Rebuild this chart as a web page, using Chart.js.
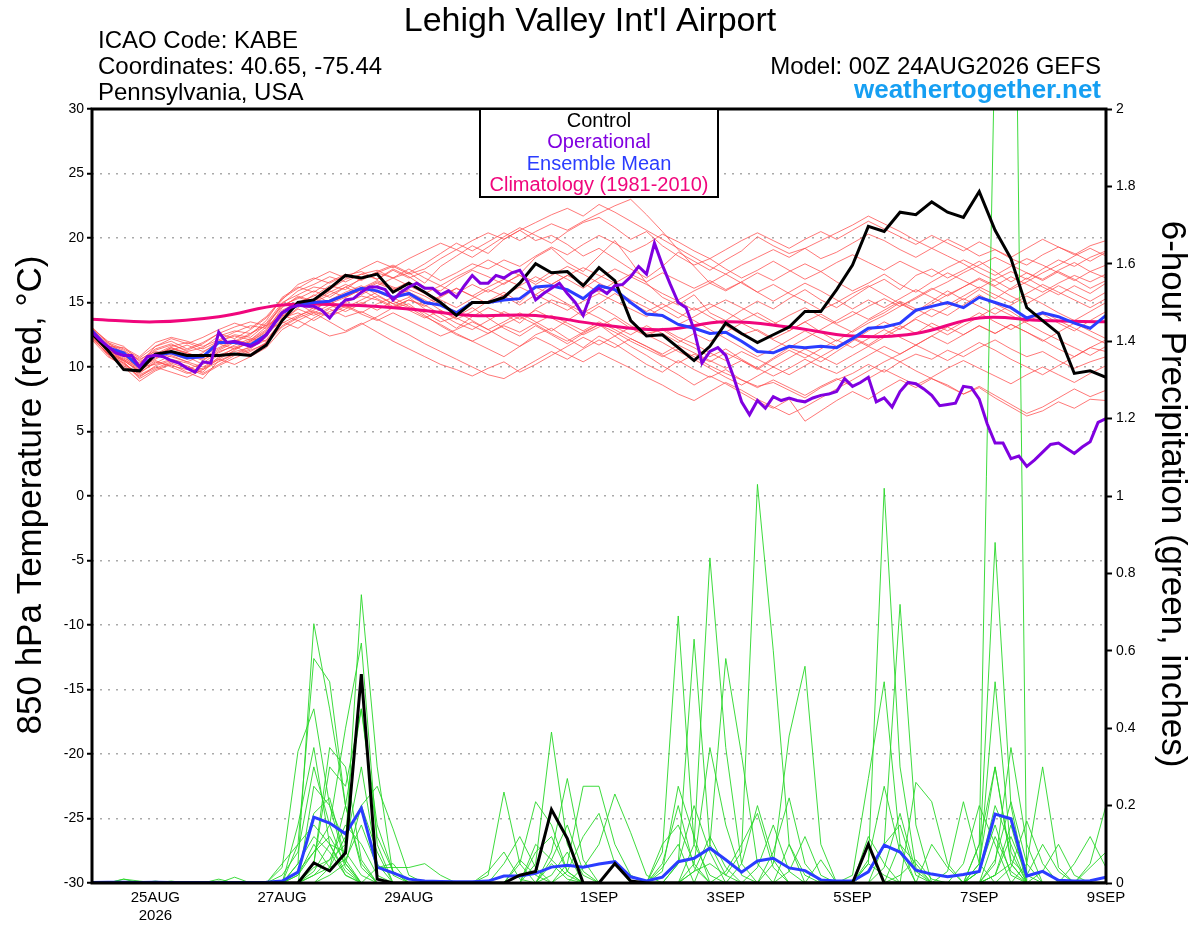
<!DOCTYPE html>
<html>
<head>
<meta charset="utf-8">
<title>Lehigh Valley Int'l Airport - GEFS</title>
<script src="https://cdn.jsdelivr.net/npm/chart.js@4.4.1/dist/chart.umd.min.js"></script>
<style>
  body { margin: 0; background: #fff; }
  canvas { display: block; }
</style>
</head>
<body>
<canvas id="myChart" width="1200" height="927"></canvas>
<script>
// horas desde 00Z 24AUG2026, cada 6 h (miembros, control, media)
const hours = [];
for (let h = 0; h <= 384; h += 6) hours.push(h);
// operacional cada 3 h
const opHours = [];
for (let h = 0; h <= 384; h += 3) opHours.push(h);
// climatologia diaria
const climHours = [0, 24, 48, 72, 96, 120, 144, 168, 192, 216, 240, 264, 288, 312, 336, 360, 384];

// etiquetas del eje x
const tickHours = [24, 72, 120, 192, 240, 288, 336, 384];
const tickLabels = [["25AUG", "2026"], "27AUG", "29AUG", "1SEP", "3SEP", "5SEP", "7SEP", "9SEP"];
const tempTicks = [-30, -25, -20, -15, -10, -5, 0, 5, 10, 15, 20, 25, 30];
const precipTicks = [0, 0.2, 0.4, 0.6, 0.8, 1, 1.2, 1.4, 1.6, 1.8, 2];

// temperatura 850 hPa (C)
const tempControl = [12.6,11.3,9.8,9.7,11.0,11.2,10.9,10.9, 10.9,11.0,10.9,11.7,13.6,15.0,15.2,16.1, 17.1,16.9,17.2,15.8,16.5,15.8,15.0,14.0, 15.0,15.0,15.4,16.5,18.0,17.3,17.4,16.3, 17.7,16.7,13.6,12.4,12.5,11.5,10.5,11.6, 13.4,12.6,11.9,12.5,13.1,14.3,14.3,16.0, 17.9,20.9,20.5,22.0,21.8,22.8,22.0,21.6, 23.6,20.6,18.4,14.6,13.6,12.6,9.5,9.7, 9.2];
const tempMean = [12.8,11.5,11.1,10.0,10.9,11.1,10.7,10.8, 11.9,11.9,11.7,12.5,14.2,14.8,15.0,15.1, 15.6,16.1,15.9,15.4,15.7,15.0,14.8,14.2, 15.0,15.0,15.2,15.3,16.2,16.3,16.0,15.3, 16.3,16.0,15.0,14.1,14.0,13.3,13.0,12.6, 12.7,12.0,11.2,11.1,11.6,11.5,11.6,11.5, 12.2,13.0,13.1,13.4,14.4,14.7,15.0,14.6, 15.4,15.0,14.6,13.8,14.2,13.9,13.4,13.0, 14.0];
const tempOper = [12.7,12.1,11.6,11.1,10.9,10.9,10.0,10.8, 10.9,10.8,10.5,10.3,9.9,9.6,10.4,10.3,
  12.7,11.9,12.0,11.8,11.6,11.9,12.5,13.4, 14.2,14.6,14.8,14.7,14.7,14.4,13.8,14.6,
  15.2,15.3,15.8,16.2,16.2,16.0,15.2,15.8, 16.2,16.5,16.1,16.1,15.6,15.9,15.4,16.3,
  17.1,16.5,16.5,17.1,16.9,17.3,17.5,16.6, 15.2,15.7,16.1,16.5,15.7,15.0,14.0,15.7,
  16.1,15.7,16.3,16.4,17.0,17.8,17.2,19.6, 17.9,16.4,15.0,14.6,12.9,10.3,11.2,11.5,
  10.9,9.2,7.3,6.3,7.4,6.8,7.7,7.4, 7.6,7.4,7.3,7.6,7.8,7.9,8.1,9.1,
  8.5,8.8,9.2,7.3,7.6,6.9,8.1,8.8, 8.7,8.3,7.8,7.0,7.1,7.2,8.5,8.4,
  7.5,5.6,4.1,4.1,2.9,3.1,2.3,2.8, 3.4,4.0,4.1,3.7,3.3,3.8,4.2,5.7,
  6.0];
const tempClim = [13.7,13.5,13.9,14.8,14.8,14.5,14.0,14.0,13.3,12.9,13.5,13.1,12.4,12.6,13.8,13.6,13.5];

// miembros del ensamble (temperatura)
const tempM01 = [12.9,11.8,11.3,10.5,11.4,11.8,11.2,11.5, 12.4,12.8,12.6,13.4,15.0,15.6,16.2,16.0, 16.8,17.2,17.5,16.9,17.3,16.5,17.8,18.6, 19.4,18.8,19.9,20.6,19.8,20.2,19.5,18.6, 19.2,18.4,17.6,16.9,17.8,18.9,18.2,17.5, 18.3,19.0,20.1,19.4,18.8,19.2,18.4,18.9, 19.6,20.3,19.8,19.1,18.5,19.2,19.9,19.3, 18.6,19.1,18.4,17.9,18.7,19.3,18.8,18.2, 18.9];
const tempM02 = [12.5,11.2,10.4,9.2,10.1,10.5,10.0,9.6, 10.8,11.2,11.5,12.1,13.6,14.5,14.0,14.6, 15.0,15.5,15.2,14.6,14.9,14.0,13.2,12.5, 12.0,11.4,10.8,11.6,12.5,13.0,12.2,11.5, 12.4,11.8,11.0,10.2,9.6,10.5,9.8,9.2, 9.8,9.0,8.5,8.8,8.2,7.6,8.4,9.0, 9.5,10.2,9.6,10.4,11.0,10.6,11.3,10.8, 11.5,12.1,11.4,10.8,11.2,10.5,9.9,10.4, 10.8];
const tempM03 = [13.1,11.9,11.0,10.2,11.6,12.0,11.4,11.9, 12.6,12.2,12.9,13.8,15.2,16.4,16.9,16.5, 17.1,17.4,16.8,17.6,17.0,16.2,15.9,16.8, 17.5,17.0,16.4,17.2,18.5,19.2,18.1,17.4, 18.6,19.8,18.2,16.5,15.4,14.8,15.6,14.2, 13.6,14.4,15.1,14.5,15.3,16.0,15.2,14.6, 15.4,16.2,16.8,16.0,17.1,17.6,16.9,17.5, 18.2,17.4,16.6,17.3,16.8,17.5,18.1,17.4, 16.9];
const tempM04 = [12.3,11.0,10.2,9.5,10.4,10.1,9.8,10.3, 11.2,11.6,11.0,11.9,13.4,14.0,14.4,15.2, 15.8,16.3,15.6,14.9,15.4,14.5,13.8,13.0, 13.9,14.6,14.1,13.4,14.5,15.2,14.8,13.9, 14.7,14.0,13.2,12.6,12.9,12.1,11.5,10.8, 11.4,10.6,9.9,10.7,11.5,11.0,10.4,11.2, 12.0,12.8,13.5,12.9,13.8,14.5,14.0,14.8, 15.6,14.9,14.3,13.5,14.1,13.4,12.8,13.6, 14.3];
const tempM05 = [12.7,11.6,11.5,10.8,11.9,12.3,12.0,11.6, 12.1,12.7,13.2,13.0,14.4,15.0,15.5,16.3, 16.0,16.9,17.3,17.8,17.2,17.6,18.4,19.1, 18.5,19.3,20.1,20.8,20.2,19.6,20.5,21.2, 21.6,20.8,19.9,20.5,19.4,18.6,17.9,18.4, 17.6,16.9,17.5,18.2,17.5,16.8,17.4,16.6, 15.9,16.5,17.2,16.4,15.8,16.6,17.3,16.7, 16.1,16.8,17.4,16.8,17.6,18.3,17.8,18.5, 19.0];
const tempM06 = [12.4,10.9,10.0,8.9,9.7,10.2,9.6,9.1, 10.5,11.0,11.6,12.4,13.8,14.2,13.6,14.3, 14.8,14.2,14.9,15.4,14.7,14.2,13.5,13.9, 14.6,13.8,13.0,12.4,13.2,12.5,11.8,12.6, 13.3,12.4,11.6,10.9,10.1,9.4,8.6,9.3, 8.7,8.0,7.3,6.8,7.5,5.8,6.6,7.4, 8.1,7.5,8.3,9.0,8.4,9.1,8.6,7.9, 8.5,7.8,7.1,6.4,6.9,7.6,8.3,7.7, 8.2];
const tempM07 = [12.6,11.4,10.8,9.9,10.6,11.3,11.7,11.2, 11.8,11.4,12.0,12.8,14.6,15.5,15.1,15.8, 16.4,15.9,16.5,16.0,16.6,15.8,15.2,14.6, 15.3,16.0,15.5,14.8,15.6,16.4,17.1,16.5, 15.8,16.6,15.9,15.2,14.5,13.8,14.6,13.9, 13.2,12.5,12.9,12.2,12.8,13.5,12.7,12.0, 12.8,13.6,14.2,15.0,14.3,15.1,15.9,15.2, 16.0,15.3,16.1,16.9,16.2,15.6,16.3,15.7, 16.5];
const tempM08 = [13.0,12.0,11.6,10.4,11.1,10.8,10.4,10.9, 11.5,12.1,11.8,12.6,13.9,14.8,15.6,15.0, 15.5,16.1,16.7,16.2,15.8,15.2,14.4,13.7, 14.3,15.1,15.8,15.0,16.2,15.6,14.9,14.2, 14.9,15.7,15.0,14.3,14.9,14.2,13.6,12.9, 12.2,11.5,10.8,11.4,12.1,12.8,12.2,11.6, 12.3,11.7,12.5,13.2,12.6,13.4,12.8,13.5, 14.2,13.5,12.9,13.6,14.3,13.6,13.0,12.4, 11.8];
const tempM09 = [12.2,11.1,10.6,9.8,10.9,11.5,11.1,10.6, 11.1,11.7,12.2,12.0,13.6,14.6,15.3,14.9, 15.4,16.0,15.3,14.7,15.2,14.8,14.1,13.4, 12.9,13.6,14.3,13.7,14.4,13.8,13.2,12.5, 13.1,13.8,13.0,12.4,13.0,12.3,11.8,11.1, 10.5,11.2,10.6,10.0,10.7,11.4,10.8,10.2, 10.9,11.6,11.0,10.4,9.7,9.1,8.5,7.9, 8.4,7.6,6.9,6.2,6.6,7.3,6.8,7.5, 7.4];
const tempM10 = [12.8,11.5,10.9,10.1,11.0,11.6,11.9,11.4, 12.0,12.4,12.1,13.1,14.9,15.9,16.4,17.0, 16.6,17.2,16.8,17.5,16.9,17.4,16.7,17.3, 18.0,17.6,18.3,17.8,18.6,19.3,18.7,19.5, 20.2,19.6,18.9,19.5,20.3,19.7,19.0,18.4, 19.1,19.8,20.4,19.8,19.2,19.9,20.5,19.9, 20.6,21.3,20.7,20.1,19.5,20.2,19.6,19.0, 19.7,19.1,18.5,19.2,19.9,19.3,18.7,19.4, 19.8];
const tempM11 = [12.5,11.3,10.7,10.0,10.2,10.6,10.3,9.8, 10.4,11.0,11.4,12.3,14.1,14.9,14.5,15.1, 14.6,15.2,15.8,15.3,16.0,15.5,14.8,14.3, 13.6,12.9,13.5,14.2,13.5,12.8,13.6,14.4, 13.8,13.1,12.5,13.2,12.6,11.9,12.6,12.0, 12.7,13.4,12.8,12.1,11.5,12.2,12.9,13.6, 14.3,13.7,14.4,15.1,14.5,13.9,14.6,15.3, 14.7,14.1,14.8,15.5,14.9,14.2,13.6,14.3, 15.0];
const tempM12 = [12.6,11.1,10.3,9.4,10.0,9.6,9.2,9.8, 10.6,11.3,12.0,12.7,13.5,13.0,13.8,14.5, 13.9,14.3,13.7,13.1,12.5,11.8,11.2,10.6, 10.0,9.4,9.1,9.8,10.5,11.2,10.6,11.4, 12.1,11.5,12.2,11.6,10.9,10.3,11.0,10.4, 11.1,10.5,9.8,10.6,11.3,10.7,11.4,12.1, 11.5,12.2,12.9,12.3,11.7,12.4,13.1,12.5, 13.2,12.6,13.3,12.7,12.1,11.4,10.8,11.5, 11.2];
const tempM13 = [12.9,11.7,11.2,10.6,11.2,11.0,10.6,11.1, 12.0,12.5,12.3,13.3,14.8,15.3,15.9,15.4, 16.2,16.8,17.3,16.9,17.6,16.9,16.3,15.7, 16.4,15.8,16.5,17.1,16.6,17.4,16.8,16.1, 16.9,17.6,17.0,16.4,15.7,15.1,14.4,14.9, 14.3,13.6,14.2,13.5,12.8,13.5,14.1,13.4, 14.0,14.7,15.3,14.7,15.4,16.1,15.5,16.2, 16.8,16.2,15.5,14.9,15.6,16.3,15.7,15.1, 15.8];
const tempM14 = [12.7,11.4,10.5,9.7,10.8,11.5,11.0,10.5, 11.3,11.9,12.5,13.6,15.4,16.2,15.8,16.6, 17.2,16.7,17.4,17.9,17.3,18.0,18.8,19.6, 19.0,19.7,20.4,19.8,20.5,21.1,20.6,21.3, 21.9,22.5,23.0,21.8,20.5,19.1,17.8,16.5, 15.9,16.6,15.8,15.1,15.8,16.5,15.9,15.2, 14.5,15.2,14.6,15.3,16.0,15.4,14.8,15.5, 16.2,15.6,15.0,15.7,16.4,15.8,15.2,14.6, 15.3];
const tempM15 = [12.1,10.8,10.1,9.3,9.9,10.4,10.1,9.5, 10.2,10.9,11.3,11.8,13.1,13.8,14.3,13.9, 14.5,15.0,14.4,15.1,14.6,13.9,13.3,12.6, 12.0,12.6,13.2,12.7,13.4,14.0,13.4,12.8, 13.5,12.9,12.2,11.6,11.0,11.7,11.1,10.5, 9.9,10.5,9.9,9.3,9.9,10.6,10.0,9.5, 10.2,10.9,11.6,11.0,11.7,12.4,11.8,12.5, 13.2,12.6,13.3,12.7,12.0,12.7,13.4,12.8, 12.2];
const tempM16 = [12.8,11.6,11.0,10.3,11.3,11.7,11.3,11.8, 12.6,13.1,13.5,13.2,14.0,13.6,13.0,12.4, 12.7,13.3,13.9,14.6,15.2,14.7,15.4,16.1, 15.5,16.2,16.8,16.3,17.0,16.4,17.1,17.7, 17.1,16.5,17.2,16.6,17.3,16.7,16.1,16.7, 16.0,16.6,17.3,16.7,17.4,18.0,17.4,18.1, 18.7,18.1,17.5,18.2,17.6,17.0,17.7,18.3, 17.7,17.1,17.8,18.4,17.9,17.3,16.7,17.4, 17.9];
const tempM17 = [12.4,11.2,10.5,9.6,10.3,10.9,10.4,10.0, 10.7,11.5,12.1,12.9,14.3,14.9,14.2,13.5, 12.8,13.4,12.7,12.0,11.4,10.8,10.2,9.8, 9.3,9.9,10.4,9.6,10.2,10.9,11.6,12.3, 11.7,12.4,13.1,12.5,11.9,11.2,10.6,9.9, 9.2,8.6,9.3,10.0,9.4,10.1,10.8,11.5, 12.2,11.6,12.3,13.0,13.7,13.1,12.5,13.2, 13.9,14.6,14.0,13.4,12.7,12.1,11.5,10.9, 11.6];
const tempM18 = [13.0,11.9,11.4,10.7,11.6,12.2,11.8,12.3, 12.9,13.4,13.0,13.9,15.3,16.1,16.8,17.4, 16.9,17.6,18.2,17.7,18.4,19.0,19.6,19.1, 19.8,20.4,19.9,20.6,21.2,21.8,22.3,21.7, 22.6,22.0,21.3,20.6,19.9,19.2,18.5,17.8, 17.2,16.5,15.8,16.4,15.7,15.1,14.4,15.0, 15.7,16.3,15.6,14.9,14.3,14.9,15.6,16.2, 16.9,16.3,17.0,16.4,15.8,16.5,17.1,16.6, 17.2];
const tempM19 = [12.6,11.3,10.6,9.9,10.7,11.2,10.8,10.2, 10.9,11.4,11.9,12.6,14.0,14.7,15.3,15.9, 15.4,16.0,16.6,16.1,15.5,14.9,15.5,16.1, 15.5,14.9,15.6,16.2,15.6,15.0,14.4,15.1, 15.7,15.1,14.5,13.9,14.6,15.2,15.9,16.5, 17.2,17.9,18.5,19.1,18.5,19.2,19.8,20.4, 21.0,21.7,21.1,20.5,19.8,19.2,18.6,18.0, 17.3,16.7,16.0,16.6,17.3,17.9,18.6,19.2, 18.6];
const tempM20 = [12.3,11.0,10.3,9.1,9.8,10.3,9.9,9.4, 10.1,10.7,11.2,11.9,13.2,13.9,14.6,14.1, 14.7,14.1,13.6,14.2,13.6,13.0,12.4,12.9, 13.5,12.9,12.2,11.6,12.3,11.7,11.0,10.4, 11.1,10.5,9.9,9.2,8.6,7.9,7.4,8.1, 8.8,8.2,7.5,6.9,6.3,6.9,7.6,8.3, 9.0,9.7,10.4,11.0,11.7,11.1,10.5,11.2, 11.9,11.3,10.6,10.0,9.4,10.1,10.8,11.5, 12.1];
const tempM21 = [12.9,11.6,10.9,10.0,10.9,11.4,11.1,10.7, 11.4,12.0,12.6,13.2,14.7,15.4,15.0,15.6, 16.2,15.6,16.3,16.9,16.3,15.7,16.3,17.0, 17.6,18.3,17.7,17.1,16.4,17.1,17.8,17.2, 16.5,15.9,15.2,14.6,13.9,13.3,13.9,14.6, 15.2,14.6,13.9,13.3,14.0,14.6,13.9,13.3, 12.7,13.4,14.0,14.7,15.3,16.0,16.6,17.3, 17.9,18.5,17.9,17.3,16.7,17.4,16.8,16.1, 16.7];
const tempM22 = [12.2,11.0,10.5,9.7,10.5,10.0,9.5,9.9, 10.6,10.2,10.8,11.5,12.9,13.6,14.2,14.8, 14.3,14.9,15.5,14.9,14.4,13.8,14.4,13.8, 13.2,12.6,13.3,13.9,13.3,12.6,12.0,12.7, 13.3,12.7,12.0,11.4,10.8,11.4,10.8,10.1, 9.5,9.0,8.4,9.0,8.4,7.8,8.5,9.1, 8.5,9.1,9.8,9.2,8.6,9.2,9.9,10.5, 9.9,9.3,8.7,9.4,10.0,9.4,8.8,9.5, 10.1];
const tempMembers = [tempM01, tempM02, tempM03, tempM04, tempM05, tempM06, tempM07, tempM08,
  tempM09, tempM10, tempM11, tempM12, tempM13, tempM14, tempM15, tempM16,
  tempM17, tempM18, tempM19, tempM20, tempM21, tempM22];

// precipitacion 6 h (pulgadas)
const precControl = [0,0,0,0,0,0,0,0, 0,0,0,0,0,0,0.052,0.031, 0.078,0.54,0.01,0,0,0,0,0, 0,0,0,0.02,0.03,0.19,0.115,0, 0,0.05,0.005,0,0,0,0,0, 0,0,0,0,0,0,0,0, 0,0.1,0,0,0,0,0,0, 0,0,0,0,0,0,0,0, 0];
const precMean = [0.001,0.002,0.002,0.001,0.002,0.001,0.001,0.001, 0.001,0.001,0.001,0.002,0.005,0.028,0.17,0.155, 0.127,0.193,0.041,0.026,0.01,0.005,0.004,0.003, 0.003,0.005,0.018,0.018,0.025,0.041,0.046,0.041, 0.049,0.055,0.016,0.005,0.015,0.055,0.064,0.09, 0.06,0.028,0.057,0.064,0.039,0.032,0.008,0.005, 0.005,0.029,0.098,0.08,0.033,0.023,0.016,0.022, 0.03,0.178,0.166,0.018,0.03,0.007,0.005,0.006, 0.015];

const precM01 = [0,0,0,0,0,0,0,0, 0,0,0,0,0,0.05,0.67,0.45, 0.2,0.05,0,0,0,0,0,0, 0,0,0,0,0,0,0,0, 0,0,0,0,0,0,0.1,0.84, 0.35,0.05,0,0,0,0,0,0, 0,0,0,0,0,0,0,0, 0.03,0.52,0.08,0,0,0,0,0, 0];
const precM02 = [0,0,0,0,0,0,0,0, 0,0,0,0,0,0,0.02,0.06, 0.1,0.745,0.3,0.02,0,0,0,0, 0,0,0,0,0,0.06,0.02,0, 0,0,0,0,0,0,0,0, 0,0,0,0,0,0,0,0, 0,0.05,1.02,0.3,0.04,0,0,0, 0,0.02,0.05,0,0,0,0,0, 0];
const precM03 = [0,0,0,0,0,0,0,0, 0,0,0,0,0,0.1,0.58,0.52, 0.2,0.04,0,0,0,0,0,0, 0,0,0,0,0,0,0,0, 0,0,0,0,0,0,0.03,0.05, 0.02,0.08,1.03,0.6,0.1,0,0,0, 0,0,0,0,0,0,0,0, 0.1,2.2,3.4,0,0,0,0,0, 0];
const precM04 = [0,0,0,0,0,0,0,0, 0,0,0,0,0,0.03,0.08,0.15, 0.4,0.62,0.1,0,0,0,0,0, 0,0,0,0,0.05,0.39,0.1,0.02, 0,0,0,0,0,0,0,0, 0,0,0,0,0,0,0,0, 0,0,0.1,0.72,0.15,0,0,0, 0,0,0,0,0,0,0,0, 0];
const precM05 = [0,0,0.01,0,0,0,0,0, 0,0,0,0,0.04,0.34,0.45,0.2, 0.05,0,0,0,0,0,0,0, 0,0.02,0.235,0.05,0,0,0,0, 0,0,0,0,0.08,0.69,0.1,0.02, 0,0,0,0,0,0,0,0, 0,0,0,0,0,0,0,0, 0.05,0.88,0.2,0,0,0,0,0, 0];
const precM06 = [0,0,0,0,0,0,0,0, 0,0,0,0,0,0,0.05,0.3, 0.25,0.45,0.12,0.03,0,0,0,0, 0,0,0,0,0,0,0,0, 0,0,0,0,0,0.05,0.63,0.1, 0.02,0,0,0,0,0,0,0, 0,0,0,0,0,0,0,0, 0,0.05,0.35,0.1,0,0,0,0, 0];
const precM07 = [0,0,0,0,0,0,0,0, 0,0,0,0,0,0,0.25,0.2, 0.1,0.3,0.05,0,0,0,0,0, 0,0,0,0.05,0.21,0.15,0.03,0, 0,0,0,0,0,0,0,0, 0,0,0,0.05,0.38,0.56,0.1,0, 0,0,0,0,0,0,0,0, 0,0,0,0.05,0.3,0.04,0,0, 0];
const precM08 = [0,0,0,0,0,0,0,0, 0,0,0,0,0,0,0,0.02, 0.05,0.2,0.25,0.14,0.02,0,0,0, 0,0,0,0,0,0,0.05,0.25, 0.25,0.1,0.02,0,0,0,0,0, 0,0,0,0,0,0,0,0, 0.02,0.27,0.52,0.1,0,0,0,0, 0,0,0,0,0,0,0,0, 0];
const precM09 = [0,0,0,0,0,0,0,0, 0,0,0,0,0,0,0.04,0.06, 0.15,0.1,0.02,0,0,0,0,0, 0,0,0,0,0,0,0,0.04, 0.1,0.23,0.13,0.02,0,0,0,0.1, 0.58,0.33,0.05,0,0,0,0,0, 0,0,0,0,0,0,0,0.05, 0.2,0.1,0,0,0,0,0,0, 0];
const precM10 = [0,0,0,0,0,0,0,0, 0.005,0,0,0,0.05,0.1,0.15,0.1, 0.03,0,0.04,0.04,0.04,0.05,0.02,0, 0,0,0,0,0,0.08,0.27,0.06, 0,0,0,0,0.1,0.15,0.05,0, 0,0,0,0,0,0,0,0, 0,0,0,0,0.26,0.21,0.05,0, 0,0,0,0,0,0,0,0, 0];
const precM11 = [0,0,0,0,0.005,0,0,0, 0,0,0,0,0,0.02,0.08,0.12, 0.05,0,0,0,0,0,0,0, 0,0,0,0,0,0.05,0.01,0, 0,0,0,0,0,0,0.03,0.12, 0.04,0,0,0,0,0,0,0, 0,0,0,0,0,0,0.03,0.21, 0.05,0,0,0,0,0,0,0.05, 0.2];
const precM12 = [0,0,0,0,0,0,0,0, 0,0,0,0,0,0,0.03,0.1, 0.08,0.02,0,0,0,0,0,0, 0,0,0,0,0.08,0.12,0.03,0, 0,0,0,0,0,0,0,0, 0.03,0.1,0.18,0.04,0,0,0,0, 0,0.03,0.1,0.15,0.02,0,0,0, 0,0.06,0.21,0.05,0,0,0,0, 0];
const precM13 = [0,0,0,0,0,0,0,0, 0,0,0,0,0,0.05,0.12,0.08, 0.02,0,0,0,0,0,0,0, 0,0,0,0.06,0.02,0,0,0, 0,0,0,0,0,0,0,0, 0,0,0.04,0.15,0.03,0,0,0, 0,0.12,0.05,0,0,0,0,0, 0.03,0.15,0.02,0,0.03,0.1,0.02,0, 0];
const precM14 = [0,0,0.01,0.005,0,0,0,0, 0.01,0,0,0,0,0,0.02,0.04, 0.12,0.2,0.08,0,0,0,0,0, 0,0,0,0,0,0,0,0, 0,0,0,0,0,0.05,0.2,0.08, 0,0,0,0,0,0,0,0, 0,0,0,0,0,0,0,0, 0.05,0.3,0.05,0,0,0,0,0, 0];
const precM15 = [0,0,0,0,0,0.005,0,0, 0,0.015,0,0,0,0.02,0.1,0.04, 0.06,0.15,0.04,0.05,0,0,0,0, 0,0.03,0.08,0.01,0,0,0,0, 0,0,0,0,0,0,0,0, 0,0,0,0,0.03,0.12,0.02,0, 0,0,0,0.02,0.06,0.01,0,0, 0,0,0.04,0.16,0.05,0,0,0, 0];
const precM16 = [0,0,0,0,0,0,0,0, 0,0,0,0,0,0,0.05,0.35, 0.3,0.06,0,0,0,0,0,0, 0,0,0,0,0,0,0,0, 0,0,0,0,0.05,0.2,0.04,0, 0,0,0,0,0,0,0,0, 0,0,0.04,0.18,0.03,0,0,0, 0,0.02,0.12,0.02,0,0,0.05,0.12, 0.04];
const precM17 = [0,0,0,0,0,0,0,0, 0,0,0,0,0.02,0.08,0.3,0.15, 0.04,0,0,0,0,0,0,0, 0,0,0,0,0.1,0.06,0.15,0.03, 0,0,0,0,0.03,0.25,0.12,0, 0,0,0,0,0.1,0.02,0,0, 0,0.06,0.25,0.08,0,0,0,0, 0.03,0.2,0.1,0,0,0,0,0, 0];
const precM18 = [0,0,0,0,0,0,0,0, 0,0,0,0,0,0,0,0.04, 0.2,0.45,0.15,0.03,0,0,0,0, 0,0,0,0,0,0,0.03,0.12, 0.18,0.05,0,0,0,0,0,0, 0,0.05,0.2,0.06,0,0,0,0, 0,0.05,0.02,0,0,0,0,0, 0.1,0.3,0.06,0.02,0.1,0.03,0,0, 0];
const precM19 = [0,0,0,0,0,0,0,0, 0,0,0,0,0,0.03,0.18,0.22, 0.06,0,0,0,0,0,0,0, 0,0,0.05,0.12,0.04,0,0,0, 0,0,0,0,0,0,0.05,0.35, 0.15,0.02,0,0,0,0,0.06,0, 0,0,0,0,0,0.1,0.04,0, 0,0.12,0.03,0,0,0,0,0, 0];
const precM20 = [0,0,0,0,0,0,0,0, 0,0,0,0,0,0.15,0.35,0.1, 0.02,0,0,0,0,0,0,0, 0,0,0,0,0,0.02,0.08,0, 0,0,0,0,0.04,0.1,0,0, 0,0,0,0.08,0.22,0.05,0,0, 0,0,0,0.1,0.05,0,0,0, 0,0.02,0.15,0,0,0,0,0.04, 0.08];
const precMembers = [precM01, precM02, precM03, precM04, precM05, precM06, precM07, precM08,
  precM09, precM10, precM11, precM12, precM13, precM14, precM15, precM16,
  precM17, precM18, precM19, precM20];

// une horas y valores en puntos {x, y}
function puntos(xs, ys) {
  return xs.map((x, i) => ({ x: x, y: ys[i] }));
}

const fuente = "'Liberation Sans', Arial, Helvetica, sans-serif";
Chart.defaults.font.family = fuente;
Chart.defaults.color = "#000";

const datasets = [];

tempMembers.forEach((m) => {
  datasets.push({
    data: puntos(hours, m), yAxisID: "y", order: 10,
    borderColor: "rgba(255,75,75,0.75)", borderWidth: 1
  });
});
precMembers.forEach((m) => {
  datasets.push({
    data: puntos(hours, m), yAxisID: "y1", order: 9,
    borderColor: "rgba(40,215,40,0.9)", borderWidth: 1
  });
});
datasets.push({ data: puntos(hours, precMean), yAxisID: "y1", order: 6, borderColor: "#2a3cff", borderWidth: 3 });
datasets.push({ data: puntos(hours, precControl), yAxisID: "y1", order: 5, borderColor: "#000", borderWidth: 3 });
datasets.push({ data: puntos(climHours, tempClim), yAxisID: "y", order: 4, borderColor: "#f0067c", borderWidth: 3, tension: 0.4 });
datasets.push({ data: puntos(hours, tempMean), yAxisID: "y", order: 3, borderColor: "#2a3cff", borderWidth: 3 });
datasets.push({ data: puntos(hours, tempControl), yAxisID: "y", order: 2, borderColor: "#000", borderWidth: 3 });
datasets.push({ data: puntos(opHours, tempOper), yAxisID: "y", order: 1, borderColor: "#8000e0", borderWidth: 3 });

datasets.forEach((d) => {
  d.pointRadius = 0;
  d.fill = false;
  d.clip = 0;
  if (d.tension === undefined) d.tension = 0;
});

// textos, marco y leyenda
const textos = {
  id: "textos",
  afterDraw(chart) {
    const ctx = chart.ctx;
    const a = chart.chartArea;
    ctx.save();

    ctx.lineWidth = 3;
    ctx.strokeStyle = "#000";
    ctx.strokeRect(a.left, a.top, a.right - a.left, a.bottom - a.top);

    ctx.fillStyle = "#000";
    ctx.textBaseline = "alphabetic";
    ctx.textAlign = "center";
    ctx.font = "34px " + fuente;
    ctx.fillText("Lehigh Valley Int'l Airport", 590, 31);

    ctx.textAlign = "left";
    ctx.font = "24px " + fuente;
    ctx.fillText("ICAO Code: KABE", 98, 48);
    ctx.fillText("Coordinates: 40.65, -75.44", 98, 74);
    ctx.fillText("Pennsylvania, USA", 98, 100);

    ctx.textAlign = "right";
    ctx.fillText("Model: 00Z 24AUG2026 GEFS", 1101, 74);
    ctx.font = "bold 26px " + fuente;
    ctx.fillStyle = "#169ff2";
    ctx.fillText("weathertogether.net", 1101, 98);

    // leyenda
    ctx.fillStyle = "#fff";
    ctx.fillRect(480, a.top, 238, 88);
    ctx.lineWidth = 2;
    ctx.strokeStyle = "#000";
    ctx.strokeRect(480, a.top, 238, 88);
    ctx.textAlign = "center";
    ctx.textBaseline = "middle";
    ctx.font = "20px " + fuente;
    const leyenda = [["Control", "#000"], ["Operational", "#8000e0"], ["Ensemble Mean", "#2a3cff"], ["Climatology (1981-2010)", "#f0067c"]];
    leyenda.forEach((l, i) => {
      ctx.fillStyle = l[1];
      ctx.fillText(l[0], 599, a.top + 12 + i * 21.5);
    });

    // titulos de ejes
    ctx.fillStyle = "#000";
    ctx.font = "35px " + fuente;
    ctx.save();
    ctx.translate(31, 495);
    ctx.rotate(-Math.PI / 2);
    ctx.fillText("850 hPa Temperature (red, \u00B0C)", 0, 0);
    ctx.restore();
    ctx.save();
    ctx.translate(1172, 494);
    ctx.rotate(Math.PI / 2);
    ctx.fillText("6-hour Precipitation (green, inches)", 0, 0);
    ctx.restore();

    ctx.restore();
  }
};

const config = {
  type: "line",
  data: { datasets: datasets },
  options: {
    responsive: false,
    animation: false,
    devicePixelRatio: 1,
    layout: { padding: { top: 109, left: 0, right: 0, bottom: 0 } },
    plugins: { legend: { display: false }, tooltip: { enabled: false } },
    scales: {
      x: {
        type: "linear", min: 0, max: 384,
        afterBuildTicks: (s) => { s.ticks = tickHours.map((v) => ({ value: v })); },
        afterFit: (s) => { s.height = 44; },
        grid: { display: false, drawTicks: false },
        border: { display: false },
        ticks: {
          autoSkip: false, maxRotation: 0, padding: 6, font: { size: 15 }, color: "#000",
          callback: (v) => tickLabels[tickHours.indexOf(v)]
        }
      },
      y: {
        position: "left", min: -30, max: 30,
        afterBuildTicks: (s) => { s.ticks = tempTicks.map((v) => ({ value: v })); },
        afterFit: (s) => { s.width = 92; },
        grid: { color: "#aaaaaa", lineWidth: 1.5, tickLength: 5, tickColor: "#000", tickWidth: 2 },
        border: { display: false, dash: [2, 6] },
        ticks: { padding: 3, font: { size: 14 }, color: "#000" }
      },
      y1: {
        position: "right", min: 0, max: 2,
        afterBuildTicks: (s) => { s.ticks = precipTicks.map((v) => ({ value: v })); },
        afterFit: (s) => { s.width = 94; },
        grid: { drawOnChartArea: false, tickLength: 6, tickColor: "#000", tickWidth: 2 },
        border: { display: false },
        ticks: { padding: 4, font: { size: 14 }, color: "#000", callback: (v) => String(+v.toFixed(1)) }
      }
    }
  },
  plugins: [textos]
};

new Chart(document.getElementById("myChart").getContext("2d"), config);
</script>
</body>
</html>
